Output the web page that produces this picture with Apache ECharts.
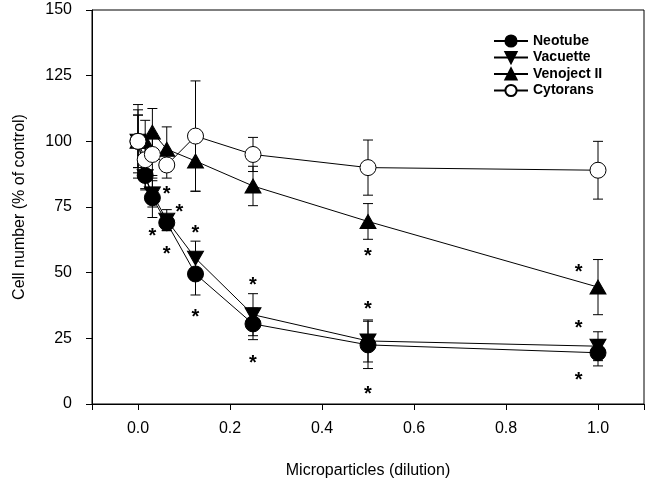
<!DOCTYPE html>
<html>
<head>
<meta charset="utf-8">
<script src="https://cdn.jsdelivr.net/npm/echarts@6/dist/echarts.min.js"></script>
<style>html,body{margin:0;padding:0;background:#fff}#c{width:646px;height:489px}</style>
</head>
<body>
<div id="c"></div>
<script>
const xVals = [0, 1/64, 1/32, 1/16, 1/8, 1/4, 1/2, 1];
const xTicks = [0, 0.2, 0.4, 0.6, 0.8, 1.0];
const yTicks = [0, 25, 50, 75, 100, 125, 150];
const seriesNames = ['Neotube', 'Vacuette', 'Venoject II', 'Cytorans'];
const neotube = [100, 87, 78.5, 69, 49.5, 30.5, 22.5, 19.5];
const neotubeErr = [10, 5, 7.5, 3, 8, 6, 9, 5];
const vacuette = [100, 86.5, 80, 70, 55.5, 34, 24, 22];
const vacuetteErr = [10, 5, 5, 4, 6.5, 8, 8, 5.5];
const venoject = [100, 100, 103.5, 97, 92.5, 83, 69.5, 44.5];
const venojectErr = [12, 8, 9, 8.5, 11.5, 7.5, 6.8, 10.5];
const cytorans = [100, 93, 95, 91, 102, 95, 90, 89];
const cytoransErr = [14, 8, 8, 5, 21, 6.5, 10.5, 11];
// significance asterisks: [x, y]
const asteriskX = [1/16, 1/32, 0.09, 1/16, 1/8, 1/8, 1/4, 1/4, 1/2, 1/2, 1/2, 0.958, 0.958, 0.958];
const asteriskY = [81.8, 65.5, 75, 59, 67, 35, 47.2, 17.5, 57.9, 38, 5.7, 51.8, 30.8, 10.7];

const FONT = '"Liberation Sans", Arial, sans-serif';
const vals = [neotube, vacuette, venoject, cytorans];
const errs = [neotubeErr, vacuetteErr, venojectErr, cytoransErr];
const symbols = ['circle', 'triangle', 'triangle', 'circle'];
const rot = [0, 180, 0, 0];
const sizes = [16, [16, 14], [16, 14], 16];
const fills = ['#000', '#000', '#000', '#fff'];

const series = [];
vals.forEach((v, i) => {
  series.push({
    type: 'custom',
    name: 'err' + i,
    silent: true,
    z: 1,
    data: xVals.map((x, k) => [x, v[k] - errs[i][k], v[k] + errs[i][k]]),
    renderItem: function (params, api) {
      const lo = api.coord([api.value(0), api.value(1)]);
      const hi = api.coord([api.value(0), api.value(2)]);
      const w = 5;
      const st = { stroke: '#000', lineWidth: 1 };
      return { type: 'group', children: [
        { type: 'line', shape: { x1: lo[0], y1: lo[1], x2: hi[0], y2: hi[1] }, style: st },
        { type: 'line', shape: { x1: lo[0] - w, y1: lo[1], x2: lo[0] + w, y2: lo[1] }, style: st },
        { type: 'line', shape: { x1: hi[0] - w, y1: hi[1], x2: hi[0] + w, y2: hi[1] }, style: st }
      ]};
    }
  });
});
vals.forEach((v, i) => {
  series.push({
    type: 'line',
    name: seriesNames[i],
    z: 3 + i,
    data: xVals.map((x, k) => [x, v[k]]),
    symbol: symbols[i],
    symbolRotate: rot[i],
    symbolSize: sizes[i],
    showAllSymbol: true,
    lineStyle: { color: '#000', width: 1 },
    itemStyle: { color: fills[i], borderColor: '#000', borderWidth: 1, opacity: 1 },
    emphasis: { disabled: true }
  });
});
series.push({
  type: 'custom',
  name: 'asterisks',
  silent: true,
  z: 10,
  data: asteriskX.map((x, k) => [x, asteriskY[k]]),
  renderItem: function (params, api) {
    const p = api.coord([api.value(0), api.value(1)]);
    return { type: 'text', x: p[0], y: p[1] + 5, style: {
      text: '*', fill: '#000', font: 'bold 20px ' + FONT, align: 'center', verticalAlign: 'middle'
    }};
  }
});

const chart = echarts.init(document.getElementById('c'), null, { renderer: 'canvas' });
chart.setOption({
  animation: false,
  backgroundColor: '#fff',
  grid: { left: 92, right: 2, top: 10, bottom: 85, show: true, borderColor: '#000', borderWidth: 1, backgroundColor: 'transparent' },
  legend: {
    data: seriesNames,
    orient: 'vertical',
    left: 488,
    top: 29,
    itemWidth: 34,
    itemHeight: 14,
    itemGap: 2.5,
    textStyle: { fontFamily: FONT, fontSize: 14, fontWeight: 'bold', color: '#000', padding: [0, 0, 0, 0] },
    selectedMode: false
  },
  xAxis: {
    type: 'value', min: -0.1, max: 1.1,
    name: 'Microparticles (dilution)', nameLocation: 'middle', nameGap: 59,
    nameTextStyle: { fontFamily: FONT, fontSize: 16, color: '#000' },
    axisLine: { show: true, onZero: false, lineStyle: { color: '#000', width: 1 } },
    axisTick: { show: true, inside: false, length: 6, alignWithLabel: true, lineStyle: { color: '#000', width: 1 } },
    axisLabel: { fontFamily: FONT, fontSize: 16, color: '#000', margin: 17, customValues: xTicks,
      formatter: v => v.toFixed(1) },
    splitLine: { show: false }
  },
  yAxis: {
    type: 'value', min: 0, max: 150, interval: 25,
    name: 'Cell number (% of control)', nameLocation: 'middle', nameGap: 64,
    nameTextStyle: { fontFamily: FONT, fontSize: 16, color: '#000' },
    axisLine: { show: true, onZero: false, lineStyle: { color: '#000', width: 1 } },
    axisTick: { show: true, inside: false, length: 6, lineStyle: { color: '#000', width: 1 } },
    axisLabel: { fontFamily: FONT, fontSize: 16, color: '#000', margin: 20 },
    splitLine: { show: false }
  },
  series: series
});
</script>
</body>
</html>
